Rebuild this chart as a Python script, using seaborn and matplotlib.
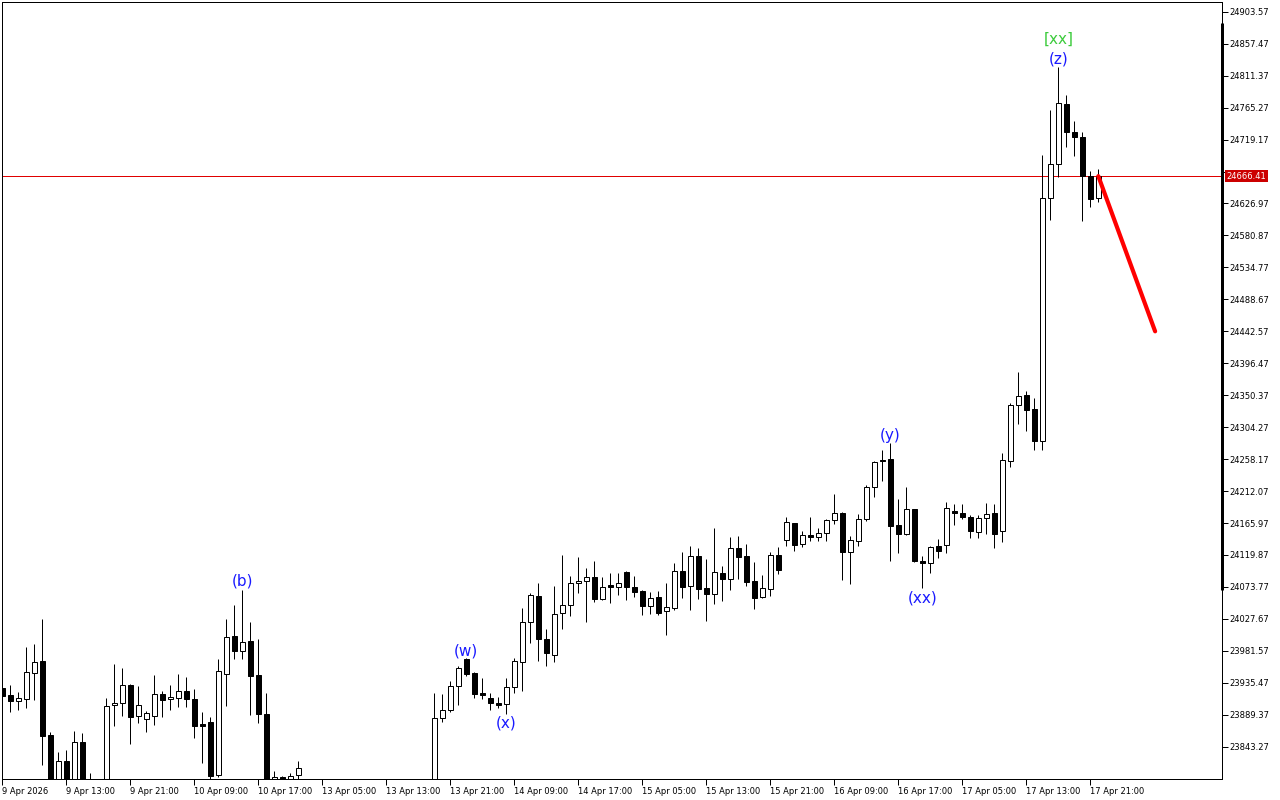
import numpy as np
import pandas as pd
import matplotlib
matplotlib.use("Agg")
import matplotlib.pyplot as plt
import matplotlib.transforms as mtransforms
import seaborn as sns

# ---------------- data (hourly candles) ----------------
opens = [
    23927.9, 23917.4, 23908.8, 23912.5, 23950.0, 23967.3, 23860.1, 23788.0, 23822.6, 23780.8,
    23850.0, 23780.0, 23790.0, 23775.0, 23903.0, 23905.9, 23932.3, 23887.1, 23882.8, 23887.1,
    23918.9, 23912.1, 23913.5, 23923.6, 23912.1, 23876.0, 23878.9, 23802.4, 23948.6, 24002.5,
    23980.9, 23995.7, 23946.7, 23890.4, 23795.2, 23800.0, 23796.7, 23802.0,
    23760.0, 23750.0, 23730.0, 23715.0, 23735.0, 23745.0, 23720.0, 23700.0, 23718.0, 23740.0,
    23760.0, 23750.0, 23735.0, 23748.0, 23768.0, 23762.0,
    23772.0, 23884.2, 23895.8, 23930.4, 23969.3, 23949.6, 23920.3, 23913.1, 23905.9, 23904.4,
    23929.0, 23965.0, 24022.7, 24060.2, 23998.2, 23975.1, 24035.7, 24047.2, 24079.0, 24081.9,
    24087.6, 24056.8, 24076.5, 24073.6, 24095.3, 24073.6, 24067.9, 24045.8, 24058.8, 24038.6,
    24042.9, 24096.7, 24074.7, 24117.9, 24071.8, 24063.1, 24093.4, 24084.8, 24129.9, 24117.9,
    24081.9, 24058.8, 24070.3, 24119.4, 24141.0, 24165.5, 24135.2, 24148.2, 24145.3, 24151.1,
    24169.9, 24180.0, 24123.7, 24139.6, 24171.3, 24217.5, 24256.4, 24257.9, 24162.7, 24149.7,
    24185.7, 24110.7, 24107.8, 24132.4, 24133.8, 24182.9, 24180.0, 24174.2, 24152.6, 24172.8,
    24180.0, 24154.0, 24255.0, 24335.8, 24350.2, 24330.0, 24284.7, 24634.4, 24683.4, 24770.0,
    24729.6, 24722.4, 24666.1, 24634.4,
]
highs = [
    23930.8, 23932.3, 23921.7, 23987.1, 23991.4, 24027.5, 23864.0, 23836.1, 23838.1, 23865.9,
    23863.0, 23805.3, 23796.0, 23914.0, 23962.6, 23956.8, 23933.3, 23930.8, 23894.8, 23946.7,
    23923.6, 23932.3, 23948.6, 23943.8, 23926.5, 23893.8, 23886.1, 23969.8, 24027.5, 24047.7,
    24069.3, 24023.6, 23999.1, 23920.7, 23808.2, 23801.4, 23805.3, 23822.6,
    23780.0, 23765.0, 23745.0, 23740.0, 23760.0, 23755.0, 23730.0, 23725.0, 23750.0, 23770.0,
    23785.0, 23765.0, 23755.0, 23775.0, 23788.0, 23780.0,
    23920.3, 23919.3, 23938.0, 23960.1, 23971.2, 23951.0, 23941.9, 23920.3, 23915.4, 23941.9,
    23971.2, 24043.4, 24065.0, 24079.4, 24012.6, 24075.1, 24119.8, 24089.5, 24116.9, 24101.1,
    24111.2, 24088.1, 24093.8, 24093.8, 24096.7, 24089.5, 24069.3, 24066.4, 24067.9, 24079.4,
    24108.3, 24123.7, 24132.4, 24129.9, 24113.6, 24158.8, 24103.9, 24145.8, 24147.2, 24135.2,
    24109.3, 24090.5, 24123.7, 24130.9, 24174.2, 24166.4, 24154.0, 24174.2, 24158.3, 24172.2,
    24207.8, 24181.4, 24146.8, 24178.5, 24221.2, 24255.0, 24270.9, 24281.0, 24200.2, 24217.5,
    24186.6, 24117.9, 24132.4, 24142.4, 24196.3, 24193.0, 24193.0, 24177.1, 24177.5, 24194.4,
    24193.0, 24266.5, 24339.1, 24383.4, 24356.0, 24345.9, 24696.4, 24761.8, 24823.4, 24783.0,
    24745.5, 24729.6, 24673.3, 24676.2,
]
lows = [
    23913.5, 23893.8, 23896.6, 23899.5, 23911.1, 23816.9, 23780.8, 23777.9, 23773.6, 23773.6,
    23766.4, 23770.0, 23760.0, 23765.0, 23873.5, 23888.0, 23846.7, 23877.9, 23864.9, 23875.0,
    23886.5, 23895.8, 23901.0, 23901.0, 23856.2, 23819.3, 23795.2, 23799.1, 23902.4, 23970.2,
    23970.2, 23889.4, 23877.9, 23773.6, 23792.3, 23792.3, 23793.8, 23795.2,
    23740.0, 23720.0, 23700.0, 23705.0, 23725.0, 23710.0, 23690.0, 23685.0, 23710.0, 23730.0,
    23745.0, 23725.0, 23720.0, 23740.0, 23755.0, 23750.0,
    23765.0, 23879.3, 23893.3, 23903.4, 23945.7, 23913.1, 23911.6, 23896.2, 23898.6, 23890.0,
    23921.2, 23924.1, 23993.3, 23967.3, 23960.1, 23965.9, 24012.6, 24032.2, 24064.6, 24023.6,
    24052.4, 24055.0, 24051.3, 24062.5, 24055.3, 24059.2, 24033.7, 24035.1, 24034.0, 24004.8,
    24040.5, 24057.3, 24040.0, 24055.9, 24024.6, 24049.6, 24053.9, 24069.8, 24085.6, 24075.5,
    24042.6, 24057.3, 24060.2, 24092.0, 24132.4, 24125.2, 24130.9, 24139.6, 24139.6, 24139.6,
    24164.1, 24083.3, 24077.5, 24132.4, 24168.4, 24203.0, 24226.1, 24110.7, 24122.3, 24148.7,
    24109.3, 24071.8, 24093.4, 24115.0, 24122.3, 24162.7, 24171.3, 24143.9, 24143.9, 24149.7,
    24129.5, 24138.1, 24246.3, 24309.2, 24299.1, 24271.7, 24271.7, 24603.5, 24664.7, 24708.0,
    24695.0, 24601.2, 24621.4, 24628.6,
]
closes = [
    23916.4, 23908.8, 23913.5, 23951.0, 23965.5, 23859.1, 23788.0, 23822.6, 23780.8, 23850.0,
    23780.8, 23790.0, 23775.0, 23902.0, 23906.3, 23931.8, 23886.5, 23903.0, 23891.4, 23918.9,
    23910.2, 23915.0, 23923.6, 23911.6, 23873.5, 23873.5, 23801.4, 23952.5, 24001.1, 23980.9,
    23994.7, 23945.3, 23890.4, 23780.8, 23799.6, 23796.7, 23801.0, 23812.5,
    23750.0, 23730.0, 23715.0, 23735.0, 23745.0, 23720.0, 23700.0, 23718.0, 23740.0, 23760.0,
    23750.0, 23735.0, 23748.0, 23768.0, 23762.0, 23772.0,
    23884.2, 23895.8, 23930.4, 23956.8, 23948.6, 23919.7, 23918.3, 23905.9, 23903.8, 23929.8,
    23966.5, 24022.7, 24061.7, 23998.2, 23978.0, 24034.3, 24047.2, 24079.0, 24081.9, 24087.6,
    24056.8, 24073.2, 24073.2, 24079.0, 24073.2, 24066.0, 24045.8, 24057.3, 24036.6, 24044.4,
    24096.3, 24073.2, 24117.9, 24071.2, 24063.1, 24094.9, 24084.8, 24129.5, 24116.5, 24081.3,
    24057.3, 24071.8, 24119.4, 24097.7, 24167.0, 24133.8, 24148.2, 24145.3, 24151.1, 24169.9,
    24180.0, 24123.7, 24141.0, 24171.3, 24217.5, 24253.5, 24255.0, 24161.2, 24149.7, 24185.7,
    24110.7, 24107.8, 24130.9, 24125.2, 24187.2, 24180.0, 24174.2, 24154.0, 24172.8, 24178.5,
    24149.7, 24256.4, 24335.8, 24348.8, 24329.4, 24284.7, 24634.4, 24683.4, 24771.4, 24729.6,
    24722.4, 24666.1, 24632.9, 24666.41,
]

time_labels = [
    "9 Apr 2026", "9 Apr 13:00", "9 Apr 21:00", "10 Apr 09:00", "10 Apr 17:00",
    "13 Apr 05:00", "13 Apr 13:00", "13 Apr 21:00", "14 Apr 09:00", "14 Apr 17:00",
    "15 Apr 05:00", "15 Apr 13:00", "15 Apr 21:00", "16 Apr 09:00", "16 Apr 17:00",
    "17 Apr 05:00", "17 Apr 13:00", "17 Apr 21:00",
]
price_ticks = [
    24903.57, 24857.47, 24811.37, 24765.27, 24719.17, 24673.07, 24626.97, 24580.87,
    24534.77, 24488.67, 24442.57, 24396.47, 24350.37, 24304.27, 24258.17, 24212.07,
    24165.97, 24119.87, 24073.77, 24027.67, 23981.57, 23935.47, 23889.37, 23843.27,
]
current_price = 24666.41
forecast_bars = [137, 144.1]
forecast_prices = [24666.41, 24442.5]

wave_labels = ["(b)", "(w)", "(x)", "(y)", "(xx)", "(z)"]
wave_bars = [30, 58, 63, 111, 115, 132]
wave_prices = [24082.3, 23981.3, 23877.4, 24292.9, 24057.8, 24835.3]
degree_label = "[xx]"
degree_bar = 132
degree_price = 24864.2

scale_range = [24886.8, 24069.3]   # thick bar on price scale
y_range = [23796.7, 24917.6]

# ---------------- figure ----------------
sns.set_theme(style="white")
plt.rcParams["font.family"] = ["DejaVu Sans"]

W, H = 1280, 800
fig = plt.figure(figsize=(12.8, 8.0), dpi=100)
ax = fig.add_axes([2 / W, 1 - 779 / H, 1220 / W, 777 / H])

df = pd.DataFrame({"o": opens, "h": highs, "l": lows, "c": closes})
df["bar"] = np.arange(len(df))
df["up"] = df["c"] >= df["o"]
df["bottom"] = df[["o", "c"]].min(axis=1)
df["height"] = (df["c"] - df["o"]).abs().clip(lower=0.6)

px = 72 / 100  # 1 pixel in points

# wicks
ax.vlines(df["bar"], df["l"], df["h"], color="black", linewidth=px, zorder=2)
# bodies
ax.bar(df["bar"], df["height"], bottom=df["bottom"], width=0.58,
       color=np.where(df["up"], "white", "black"), edgecolor="black",
       linewidth=px, zorder=3)

# current price line
ax.axhline(current_price, color="#E00000", linewidth=px, zorder=1)

# forecast line
sns.lineplot(x=forecast_bars, y=forecast_prices, ax=ax, color="#FF0000",
             linewidth=3.0, zorder=4)

# wave labels
for lab, b, p in zip(wave_labels, wave_bars, wave_prices):
    ax.text(b, p, lab, color="#1A1AFF", fontsize=11, ha="center", va="center", zorder=5)
ax.text(degree_bar, degree_price, degree_label, color="#3CCB3C", fontsize=11,
        ha="center", va="center", zorder=5)

# axes limits / ticks
ax.set_xlim(-0.04, 152.46)
ax.set_ylim(*y_range)

tick_bars = list(range(0, 8 * len(time_labels), 8))
ax.set_xticks(tick_bars)
ax.set_xticklabels(time_labels, ha="left", fontsize=6)
ax.yaxis.tick_right()
ax.set_yticks(price_ticks)
ax.set_yticklabels(["" if abs(v - 24673.07) < 0.01 else f"{v:.2f}" for v in price_ticks],
                   fontsize=6)
ax.tick_params(axis="both", direction="out", length=4, width=px, color="black",
               labelcolor="black", pad=1)
ax.tick_params(axis="x", bottom=True, pad=1.5)
ax.tick_params(axis="y", right=True, left=False)

for s in ax.spines.values():
    s.set_color("black")
    s.set_linewidth(px)
ax.grid(False)
ax.set_xlabel("")
ax.set_ylabel("")

# thick bar on the price scale
trans = mtransforms.blended_transform_factory(ax.transAxes, ax.transData)
ax.plot([1.0, 1.0], scale_range, color="black", linewidth=3 * px, transform=trans,
        clip_on=False, zorder=6, solid_capstyle="butt")

# current price label
ax.annotate(f"{current_price:.2f}", xy=(1.0, current_price), xycoords=trans,
            xytext=(3.5, 0), textcoords="offset points", ha="left", va="center",
            fontsize=6, color="white",
            bbox=dict(boxstyle="square,pad=0.2", facecolor="#CC0000", edgecolor="none"),
            annotation_clip=False, zorder=7)

fig.savefig("out.png", dpi=100, facecolor="white")
